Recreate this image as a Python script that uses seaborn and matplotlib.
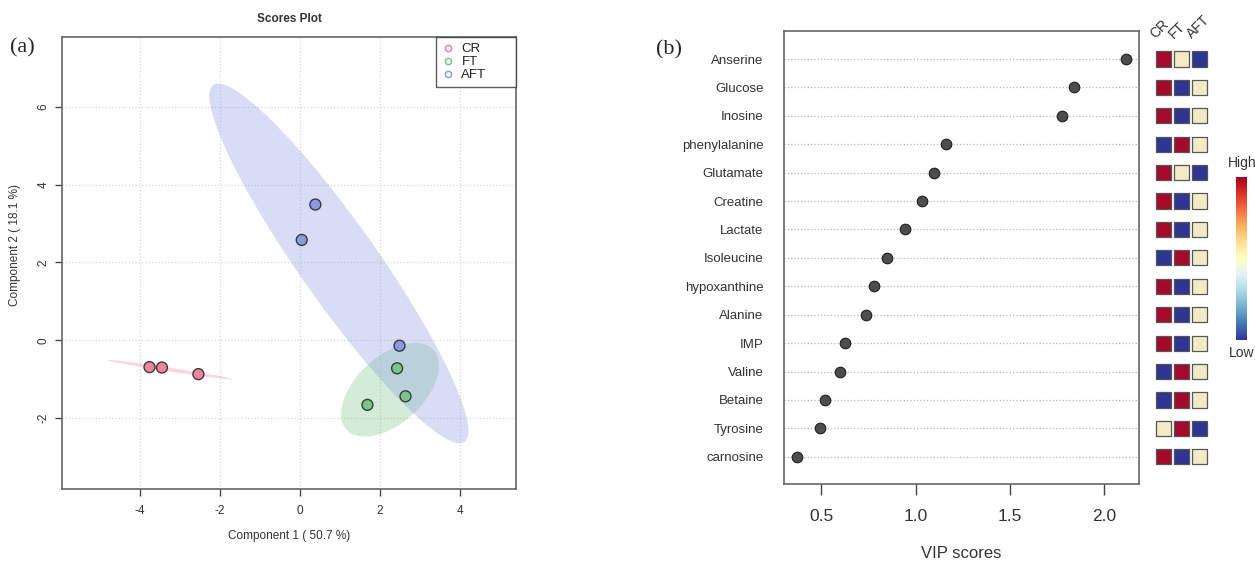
import numpy as np
import pandas as pd
import matplotlib
matplotlib.use("Agg")
import matplotlib as mpl
import matplotlib.pyplot as plt
import seaborn as sns
from matplotlib.lines import Line2D

# ---- data ----
groups = ["CR", "FT", "AFT"]
sample_group = ["CR", "CR", "CR", "FT", "FT", "FT", "AFT", "AFT", "AFT"]
pc1 = [-3.75, -3.44, -2.53, 1.69, 2.43, 2.64, 0.39, 0.05, 2.49]
pc2 = [-0.69, -0.70, -0.87, -1.66, -0.72, -1.44, 3.49, 2.58, -0.14]

metabolites = ["Anserine", "Glucose", "Inosine", "phenylalanine", "Glutamate",
               "Creatine", "Lactate", "Isoleucine", "hypoxanthine", "Alanine",
               "IMP", "Valine", "Betaine", "Tyrosine", "carnosine"]
vip = [2.116, 1.838, 1.778, 1.162, 1.098, 1.034, 0.946, 0.849, 0.778, 0.739,
       0.628, 0.597, 0.520, 0.493, 0.373]
cr_level = ["high", "high", "high", "low", "high", "high", "high", "low",
            "high", "high", "high", "low", "low", "mid", "high"]
ft_level = ["mid", "low", "low", "high", "mid", "low", "low", "high",
            "low", "low", "low", "high", "high", "high", "low"]
aft_level = ["low", "mid", "mid", "mid", "low", "mid", "mid", "mid",
             "mid", "mid", "mid", "mid", "mid", "low", "mid"]

group_colors = {"CR": "#F0849C", "FT": "#79C68B", "AFT": "#8A9AE2"}
level_colors = {"high": "#A50A2C", "mid": "#F1EAC4", "low": "#2F3592"}

scores = pd.DataFrame({"pc1": pc1, "pc2": pc2, "group": sample_group})
vip_df = pd.DataFrame({"metabolite": metabolites, "vip": vip})
heat_df = pd.concat([
    pd.DataFrame({"metabolite": metabolites, "group": g, "level": lv})
    for g, lv in zip(groups, [cr_level, ft_level, aft_level])
])


def conf_ellipse(x, y, t=2.4477, n=200):
    # 95% normal-theory ellipse (sqrt(qchisq(.95, 2)))
    xy = np.column_stack([x, y])
    c = np.cov(xy, rowvar=False)
    vals, vecs = np.linalg.eigh(c)
    a = np.linspace(0, 2 * np.pi, n)
    circ = np.column_stack([np.cos(a), np.sin(a)]) * np.sqrt(vals) * t
    pts = circ @ vecs.T + xy.mean(axis=0)
    return pts[:, 0], pts[:, 1]


sns.set_theme(style="white")
plt.rcParams["font.family"] = ["Liberation Sans", "DejaVu Sans"]
plt.rcParams["axes.unicode_minus"] = False

fig = plt.figure(figsize=(12.55, 5.64), dpi=100)

# ---- (a) scores plot ----
ax1 = fig.add_axes([0.0494, 0.1325, 0.3618, 0.8014])
for g in groups:
    sub = scores[scores.group == g]
    ex, ey = conf_ellipse(sub.pc1.values, sub.pc2.values)
    ax1.fill(ex, ey, color=group_colors[g], alpha=0.33, lw=0, zorder=1)

sns.scatterplot(data=scores, x="pc1", y="pc2", hue="group", palette=group_colors,
                s=62, edgecolor="#3a3a3a", linewidth=1, legend=False, ax=ax1, zorder=3)

ax1.set_xlim(-5.935, 5.40)
ax1.set_ylim(-3.83, 7.79)
ax1.set_xticks([-4, -2, 0, 2, 4])
ax1.set_yticks([-2, 0, 2, 4, 6])
ax1.grid(True, ls=":", color="#d8d8d8", lw=0.9)
ax1.set_axisbelow(True)
for sp in ax1.spines.values():
    sp.set_color("#666666")
    sp.set_linewidth(1.2)
ax1.tick_params(axis="both", bottom=True, left=True, direction="out", length=5,
                width=1, color="#444444", labelsize=8.5, labelcolor="#333333")
ax1.tick_params(axis="x", pad=6)
ax1.tick_params(axis="y", pad=4, labelrotation=90)
for lab in ax1.get_yticklabels():
    lab.set_va("center")
ax1.set_xlabel("Component 1 ( 50.7 %)", fontsize=8.5, color="#333333", labelpad=10)
ax1.set_ylabel("Component 2 ( 18.1 %)", fontsize=8.5, color="#333333", labelpad=12)
ax1.yaxis.set_label_coords(-0.09, 0.54)
ax1.set_title("Scores Plot", fontsize=8.5, fontweight="bold", color="#333333", pad=11)

handles = [Line2D([], [], marker="o", ls="", markerfacecolor="none",
                  markeredgecolor=group_colors[g], markersize=4.5, markeredgewidth=1.1)
           for g in groups]
leg = ax1.legend(handles, groups, loc="upper left", mode="expand",
                 bbox_to_anchor=(0.823, 0.0, 0.177, 1.0), borderaxespad=0,
                 fontsize=9.5, frameon=True, fancybox=False, labelspacing=0.05,
                 handletextpad=0.5, handlelength=1.0, borderpad=0.45)
leg.get_frame().set_edgecolor("#333333")
leg.get_frame().set_linewidth(1)
for t in leg.get_texts():
    t.set_color("#222222")

# ---- (b) VIP scores ----
ax2 = fig.add_axes([0.6249, 0.1418, 0.2825, 0.8032])
sns.scatterplot(data=vip_df, x="vip", y="metabolite", color="#4d4d4d",
                edgecolor="#1e1e1e", linewidth=0.8, s=58, ax=ax2, zorder=3)
ax2.set_xlim(0.304, 2.183)
ax2.set_ylim(14.96, -0.986)
ax2.set_xticks([0.5, 1.0, 1.5, 2.0])
ax2.grid(axis="y", ls=":", color="#b8b8b8", lw=0.9)
ax2.grid(axis="x", visible=False)
ax2.set_axisbelow(True)
for sp in ax2.spines.values():
    sp.set_color("#666666")
    sp.set_linewidth(1.2)
ax2.tick_params(axis="x", bottom=True, direction="out", length=8, width=1,
                color="#444444", labelsize=12.5, labelcolor="#333333", pad=10)
ax2.tick_params(axis="y", left=False, length=0, labelsize=9.5,
                labelcolor="#333333", pad=15)
ax2.set_xlabel("VIP scores", fontsize=12, color="#333333", labelpad=16)
ax2.set_ylabel("")

# ---- group-level squares ----
ax3 = fig.add_axes([1154.2 / 1255, 0.1418, 54.6 / 1255, 0.8032])
sns.scatterplot(data=heat_df, x="group", y="metabolite", hue="level",
                palette=level_colors, marker="s", s=120, edgecolor="#555555",
                linewidth=0.9, legend=False, ax=ax3)
ax3.set_xlim(-0.5, 2.5)
ax3.set_ylim(14.96, -0.986)
ax3.axis("off")
for i, g in enumerate(groups):
    ax3.text(i - 0.3, -0.62, g, rotation=45, rotation_mode="anchor",
             ha="left", va="bottom", fontsize=10, color="#333333")

# colour key
cax = fig.add_axes([1235.7 / 1255, 1 - 340 / 564, 11 / 1255, 163.3 / 564])
cb = fig.colorbar(mpl.cm.ScalarMappable(cmap="RdYlBu_r"), cax=cax)
cb.outline.set_visible(False)
cb.set_ticks([])
fig.text(1241.7 / 1255, 1 - 162.7 / 564, "High", ha="center", va="center",
         fontsize=10, color="#333333")
fig.text(1241.7 / 1255, 1 - 353.3 / 564, "Low", ha="center", va="center",
         fontsize=10, color="#333333")

# panel tags
fig.text(10 / 1255, 1 - 48 / 564, "(a)", fontsize=16, va="center",
         family="Liberation Serif")
fig.text(656 / 1255, 1 - 50 / 564, "(b)", fontsize=16, va="center",
         family="Liberation Serif")

fig.savefig("out.png", dpi=100)
